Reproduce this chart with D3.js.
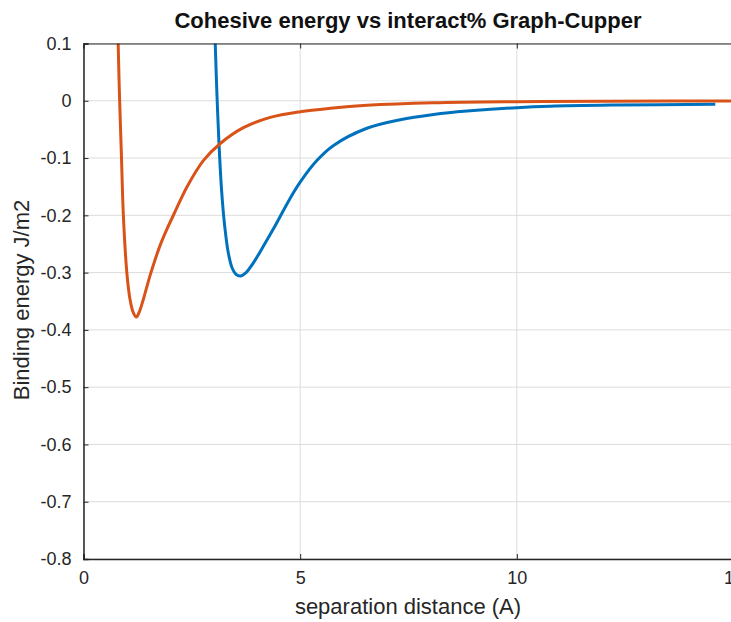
<!DOCTYPE html>
<html>
<head>
<meta charset="utf-8">
<script src="https://cdn.jsdelivr.net/npm/d3@7"></script>
<style>
  html, body { margin: 0; padding: 0; background: #fff; }
  svg { display: block; }
  text { font-family: "Liberation Sans", Arial, Helvetica, sans-serif; }
</style>
</head>
<body>
<svg id="chart" width="731" height="622"></svg>
<script>
// ---- data ----
const titleText = "Cohesive energy vs interact% Graph-Cupper";
const xLabel = "separation distance (A)";
const yLabel = "Binding energy J/m2";
const xTicks = [0, 5, 10, 15];
const yTicks = [0.1, 0, -0.1, -0.2, -0.3, -0.4, -0.5, -0.6, -0.7, -0.8];

// orange series (separation, energy)
const orangeX = [0.79, 0.80, 0.83, 0.875, 0.92, 1.00, 1.07, 1.14, 1.22, 1.28, 1.36, 1.45, 1.54, 1.65, 1.77, 1.92, 2.08, 2.39, 2.77, 3.15, 3.69, 4.31, 5.00, 5.70, 6.54, 8.07, 10.0, 12.0, 15.5];
const orangeY = [0.13, 0.10, 0.01, -0.095, -0.20, -0.30, -0.345, -0.368, -0.3775, -0.370, -0.352, -0.328, -0.304, -0.278, -0.252, -0.225, -0.199, -0.150, -0.104, -0.075, -0.047, -0.029, -0.019, -0.013, -0.008, -0.0035, -0.0015, -0.0007, -0.0002];

// blue series (separation, energy)
const blueX = [3.03, 3.04, 3.08, 3.13, 3.19, 3.26, 3.34, 3.43, 3.52, 3.62, 3.75, 3.92, 4.15, 4.38, 4.77, 5.00, 5.39, 5.77, 6.54, 7.31, 8.08, 8.85, 10.0, 10.77, 12.27, 14.58];
const blueY = [0.13, 0.10, 0.01, -0.08, -0.16, -0.22, -0.265, -0.292, -0.303, -0.306, -0.300, -0.283, -0.254, -0.224, -0.170, -0.142, -0.104, -0.078, -0.048, -0.033, -0.024, -0.018, -0.012, -0.0095, -0.0075, -0.006];

// ---- layout ----
const svg = d3.select("#chart");
svg.append("rect").attr("width", 731).attr("height", 622).attr("fill", "#fff");

const mLeft = 83.5, mRight = 733.5, mTop = 43.5, mBottom = 559;
const x = d3.scaleLinear().domain([0, 15]).range([mLeft, mRight]);
const y = d3.scaleLinear().domain([-0.8, 0.1]).range([mBottom, mTop]);

// grid
const grid = svg.append("g");
grid.selectAll("line.gy").data(yTicks).join("line")
  .attr("x1", mLeft).attr("x2", mRight)
  .attr("y1", d => y(d)).attr("y2", d => y(d))
  .attr("stroke", "#dcdcdc").attr("stroke-width", 1);
grid.selectAll("line.gx").data(xTicks).join("line")
  .attr("x1", d => x(d)).attr("x2", d => x(d))
  .attr("y1", mTop).attr("y2", mBottom)
  .attr("stroke", "#dcdcdc").attr("stroke-width", 1);

// curves
svg.append("defs").append("clipPath").attr("id", "clip")
  .append("rect").attr("x", mLeft).attr("y", mTop).attr("width", mRight - mLeft).attr("height", mBottom - mTop);

const line = d3.line().x(d => x(d[0])).y(d => y(d[1])).curve(d3.curveCatmullRom.alpha(0.5));
const orange = orangeX.map((v, i) => [v, orangeY[i]]);
const blue = blueX.map((v, i) => [v, blueY[i]]);

const curves = svg.append("g").attr("clip-path", "url(#clip)");
curves.append("path").datum(blue).attr("d", line)
  .attr("fill", "none").attr("stroke", "#0072BD").attr("stroke-width", 3).attr("stroke-linejoin", "round");
curves.append("path").datum(orange).attr("d", line)
  .attr("fill", "none").attr("stroke", "#D95319").attr("stroke-width", 3).attr("stroke-linejoin", "round");

// axes (MATLAB style: inward ticks, box)
const axisColor = "#262626";
const xAxis = svg.append("g").attr("transform", `translate(0,${mBottom})`)
  .call(d3.axisBottom(x).tickValues(xTicks).tickSize(-5).tickPadding(12).tickFormat(d => String(d)));
const yAxis = svg.append("g").attr("transform", `translate(${mLeft},0)`)
  .call(d3.axisLeft(y).tickValues(yTicks).tickSize(-5).tickPadding(12).tickFormat(d => d === 0 ? "0" : d.toFixed(1)));
const xTop = svg.append("g").attr("transform", `translate(0,${mTop})`)
  .call(d3.axisTop(x).tickValues(xTicks).tickSize(-5).tickFormat(""));
[xAxis, yAxis, xTop].forEach(g => {
  g.select(".domain").attr("stroke", axisColor).attr("stroke-width", 1.5);
  g.selectAll(".tick line").attr("stroke", axisColor);
  g.selectAll(".tick text").attr("fill", axisColor).attr("font-size", 18)
    .attr("font-family", "'Liberation Sans', Arial, sans-serif");
});
xTop.select(".domain").attr("stroke-width", 1);

// labels
svg.append("text").attr("x", 408).attr("y", 28).attr("text-anchor", "middle")
  .attr("font-size", 22).attr("font-weight", "bold").attr("fill", "#111").text(titleText);
svg.append("text").attr("x", 408).attr("y", 614).attr("text-anchor", "middle")
  .attr("font-size", 22).attr("fill", axisColor).text(xLabel);
svg.append("text").attr("transform", "translate(29,300) rotate(-90)").attr("text-anchor", "middle")
  .attr("font-size", 22).attr("fill", axisColor).text(yLabel);
</script>
</body>
</html>
